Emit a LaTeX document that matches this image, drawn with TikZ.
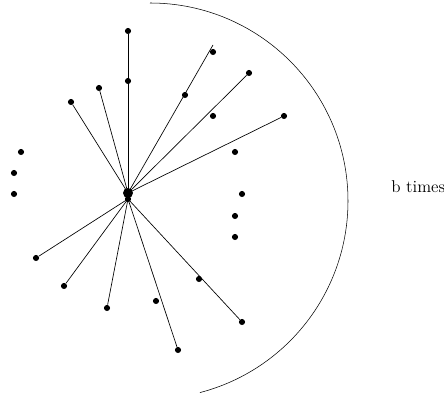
\documentclass[tikz,border=0pt]{standalone}
\usetikzlibrary{positioning}

\begin{document}
\begin{tikzpicture}[
    x=0.75pt, y=-0.75pt,
    dot/.style={circle, fill, inner sep=0pt, minimum size=4.6pt},
    hub/.style={circle, fill, inner sep=0pt, minimum size=7.5pt},
    spoke/.style={line width=0.5pt}
]
\useasboundingbox (0,0) rectangle (444,398);

% centre
\node[hub] (c) at (128,193) {};
\node[dot] (cb) at (128,199) {};

% upper spokes
\node[dot] (t1) at (128,31) {};
\node[dot] (t2) at (128,81) {};
\node[dot] (u1) at (71,102) {};
\node[dot] (u2) at (99,88) {};
\node[dot] (r1) at (185,95) {};
\node[dot] (r1b) at (213,52) {};
\coordinate (r1e) at (213,45);
\node[dot] (r2) at (213,116) {};
\node[dot] (r2b) at (249,73) {};
\node[dot] (r3) at (235,152) {};
\node[dot] (r3b) at (284,116) {};

% lower spokes
\node[dot] (l1) at (36,258) {};
\node[dot] (l2) at (64,286) {};
\node[dot] (l3) at (107,308) {};
\node[dot] (d1) at (156,301) {};
\node[dot] (d1b) at (178,350) {};
\node[dot] (d2) at (199,279) {};
\node[dot] (d2b) at (242,322) {};

% dots
\node[dot] (p1) at (21,152) {};
\node[dot] (p2) at (14,173) {};
\node[dot] (p3) at (14,194) {};
\node[dot] (q1) at (242,194) {};
\node[dot] (q2) at (235,216) {};
\node[dot] (q3) at (235,237) {};

\draw[spoke] (c.center) -- (t1);
\draw[spoke] (c.center) -- (u1);
\draw[spoke] (c.center) -- (u2);
\draw[spoke] (c.center) -- (r1e);
\draw[spoke] (c.center) -- (r2b);
\draw[spoke] (c.center) -- (r3b);
\draw[spoke] (cb.center) -- (l1);
\draw[spoke] (cb.center) -- (l2);
\draw[spoke] (cb.center) -- (l3);
\draw[spoke] (cb.center) -- (d1b);
\draw[spoke] (cb.center) -- (d2b);

% arc
\coordinate (o) at (150,201);
\draw ([shift={(-90:198)}]o) arc[start angle=-90, end angle=75.4, radius=198];

\node[anchor=base west, inner sep=0pt, font=\fontsize{12.8}{15}\selectfont] (lbl) at (391,193) {b times};
\end{tikzpicture}
\end{document}
